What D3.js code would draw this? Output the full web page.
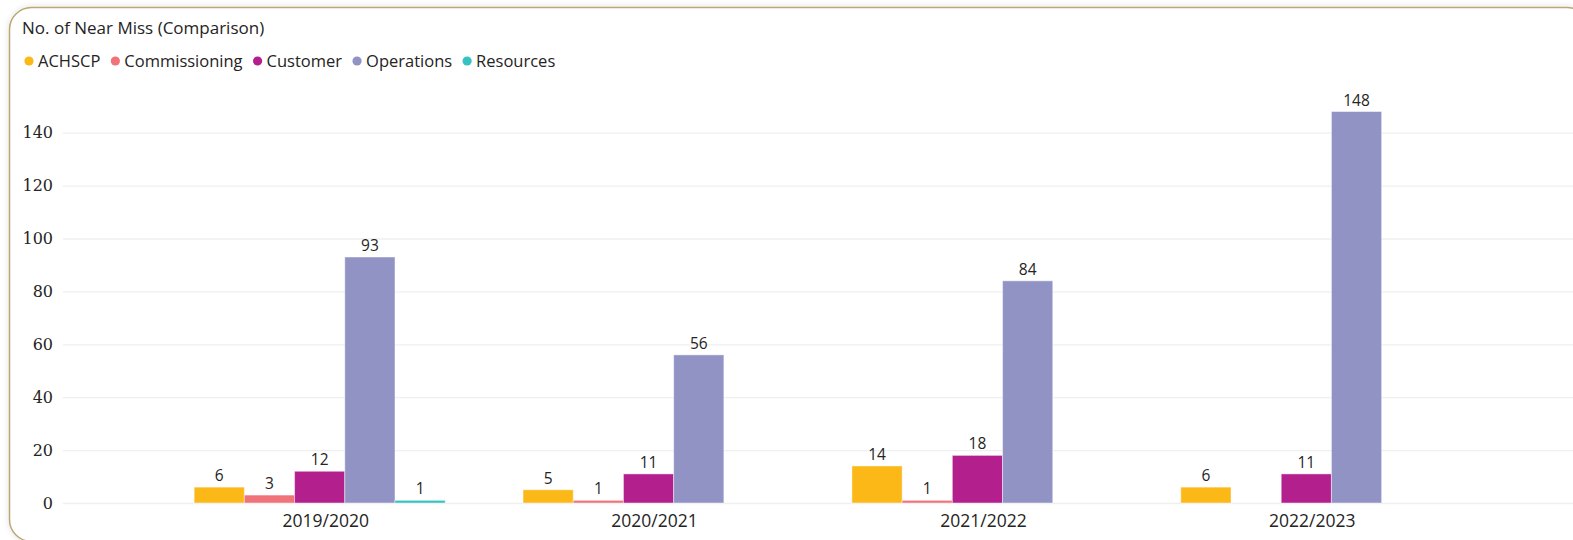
<!DOCTYPE html>
<html>
<head>
<meta charset="utf-8">
<script src="https://cdn.jsdelivr.net/npm/d3@7"></script>
<style>
  html, body { margin: 0; padding: 0; background: #ffffff; }
  svg { display: block; }
</style>
</head>
<body>
<svg id="chart" width="1573" height="540"></svg>
<script>
// ---- data ----
const title = "No. of Near Miss (Comparison)";
const categories = ["2019/2020", "2020/2021", "2021/2022", "2022/2023"];
const seriesNames = ["ACHSCP", "Commissioning", "Customer", "Operations", "Resources"];
const achscp = [6, 5, 14, 6];
const commissioning = [3, 1, 1, null];
const customer = [12, 11, 18, 11];
const operations = [93, 56, 84, 148];
const resources = [1, null, null, null];
const seriesColors = ["#fbb817", "#f0727a", "#b41f8e", "#9293c5", "#35c2c2"];
const yTicks = [0, 20, 40, 60, 80, 100, 120, 140];

const seriesValues = [achscp, commissioning, customer, operations, resources];

const svg = d3.select("#chart");
const textColor = "#252423";

// card border with soft shadow
const defs = svg.append("defs");
const f = defs.append("filter").attr("id", "sh").attr("x", "-5%").attr("y", "-5%").attr("width", "110%").attr("height", "110%");
f.append("feDropShadow").attr("dx", 0).attr("dy", 0).attr("stdDeviation", 3).attr("flood-color", "#000").attr("flood-opacity", 0.12);

svg.append("rect")
  .attr("x", 9.5).attr("y", 7.5)
  .attr("width", 1580).attr("height", 534)
  .attr("rx", 22).attr("ry", 22)
  .attr("fill", "#ffffff")
  .attr("stroke", "#bba676")
  .attr("stroke-width", 1.5)
  .attr("filter", "url(#sh)");

// title
svg.append("text")
  .attr("x", 22).attr("y", 34)
  .attr("font-family", "'Open Sans', sans-serif")
  .attr("font-size", 17)
  .attr("fill", textColor)
  .text(title);

// legend
const legend = svg.append("g");
let lx = 29;
seriesNames.forEach((name, i) => {
  legend.append("circle").attr("cx", lx).attr("cy", 61).attr("r", 4.6).attr("fill", seriesColors[i]);
  const t = legend.append("text")
    .attr("x", lx + 9).attr("y", 66.5)
    .attr("font-family", "'Open Sans', sans-serif")
    .attr("font-size", 16.5)
    .attr("fill", textColor)
    .text(name);
  lx = lx + 9 + t.node().getComputedTextLength() + 15;
});

// scales
const y = d3.scaleLinear().domain([0, 140]).range([503, 132.7]);
const x0 = d3.scaleBand().domain(categories).range([58, 1568]).paddingInner(0.2367).paddingOuter(0.414);
const x1 = d3.scaleBand().domain(seriesNames).range([0, x0.bandwidth()]);

// gridlines + y axis
const yAxis = d3.axisLeft(y).tickValues(yTicks).tickSize(-(1573 - 63)).tickPadding(10);
const yg = svg.append("g").attr("transform", "translate(63,0)").call(yAxis);
yg.select(".domain").remove();
yg.selectAll(".tick line").attr("stroke", "#efefef").attr("stroke-width", 1.3);
yg.selectAll(".tick text")
  .attr("font-family", "'DejaVu Serif', serif")
  .attr("font-size", 16)
  .attr("fill", textColor);

// x axis labels
const xAxis = d3.axisBottom(x0).tickSize(0).tickPadding(0);
const xg = svg.append("g").attr("transform", "translate(6,0)").call(xAxis);
xg.select(".domain").remove();
xg.selectAll(".tick text")
  .attr("y", 527).attr("dy", 0)
  .attr("font-family", "'Open Sans', sans-serif")
  .attr("font-size", 17.5)
  .attr("fill", textColor);

// bars
const rows = [];
categories.forEach((c, ci) => {
  seriesNames.forEach((s, si) => {
    const v = seriesValues[si][ci];
    if (v !== null && v !== undefined) rows.push({ c, s, si, v });
  });
});

const barsG = svg.append("g");
barsG.selectAll("rect").data(rows).join("rect")
  .attr("x", d => x0(d.c) + x1(d.s))
  .attr("y", d => y(d.v))
  .attr("width", x1.bandwidth())
  .attr("height", d => y(0) - y(d.v))
  .attr("fill", d => seriesColors[d.si])
  .attr("stroke", "#ffffff")
  .attr("stroke-opacity", 0.45)
  .attr("stroke-width", 1);

barsG.selectAll("text").data(rows).join("text")
  .attr("x", d => x0(d.c) + x1(d.s) + x1.bandwidth() / 2)
  .attr("y", d => y(d.v) - 6)
  .attr("text-anchor", "middle")
  .attr("font-family", "'Open Sans', sans-serif")
  .attr("font-size", 15.5)
  .attr("fill", textColor)
  .text(d => d.v);
</script>
</body>
</html>
